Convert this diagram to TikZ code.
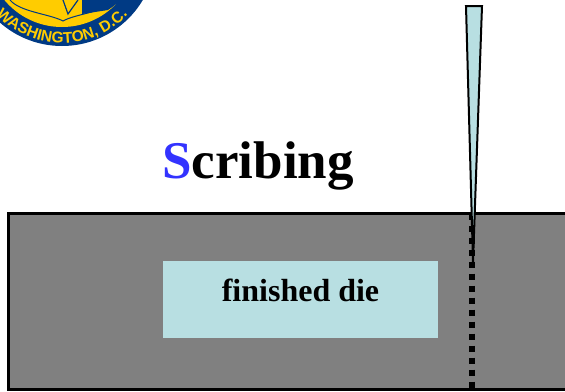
\documentclass[tikz,border=0pt]{standalone}
\usepackage{fontspec}
\setmainfont{Liberation Serif}
\newfontfamily\sealfont{Liberation Sans}
\usetikzlibrary{decorations.text}
\definecolor{dieblue}{HTML}{B8DFE2}
\definecolor{wafergray}{HTML}{808080}
\definecolor{sealblue}{HTML}{003A84}
\definecolor{sealyellow}{HTML}{FFCC00}
\definecolor{titleblue}{HTML}{3333FF}

\begin{document}
\begin{tikzpicture}[
x=1pt, y=-1pt,
wafer/.style={rectangle, draw=black, line width=3pt, fill=wafergray, minimum width=570pt, minimum height=176pt, anchor=north west, inner sep=0pt, outer sep=0pt},
die/.style={rectangle, fill=dieblue, minimum width=275pt, text height=40pt, text depth=37pt, inner sep=0pt, font=\fontsize{32}{32}\selectfont\bfseries},
title/.style={font=\fontsize{53}{53}\selectfont\bfseries, inner sep=0pt},
blade/.style={draw=black, line width=2pt, fill=dieblue, line join=miter},
scribe/.style={line width=6pt, black, dash pattern=on 6pt off 6pt, dash phase=0.3pt}
]
\useasboundingbox (0,0) rectangle (565,391);

% seal, clipped by the page
\begin{scope}
\clip (0,0) rectangle (565,391);
\fill[sealblue] (62,-48) circle (94);
\fill[sealyellow] (62,-48) circle (75);
\fill[sealblue] (82,0) -- (122,0) -- (108,10) -- (82,14) -- cycle;
\draw[sealblue, line width=1pt] (10,0) .. controls (20,12) and (50,14) .. (63,21) .. controls (75,14) and (105,12) .. (118,0);
\draw[sealblue, line width=1.2pt] (63,0) -- (68,14) -- (78,0);
\begin{scope}[y=1pt]
\path[decorate, decoration={text along path, text align=center, text={|\sealfont\bfseries\fontsize{15.5}{15.5}\selectfont\color{sealyellow}|WASHINGTON, D.C.}}]
  (62,48) ++(200:91) arc[start angle=200, end angle=340, radius=91];
\end{scope}
\end{scope}

\node[title] (title) at (258,165.5) {\textcolor{titleblue}{S}cribing};
\node[wafer] (wafer) at (8,213) {};
\node[die] (die) at (300.5,299.5) {finished die};

\coordinate (scribetop) at (472,214);
\coordinate (scribebot) at (472,390);
\draw[scribe] (scribetop) -- (scribebot);

\coordinate (bladel) at (466,6);
\coordinate (blader) at (482,6);
\coordinate (bladetip) at (473,262);
\draw[blade] (bladel) -- (blader) -- (bladetip) -- cycle;
\end{tikzpicture}
\end{document}
